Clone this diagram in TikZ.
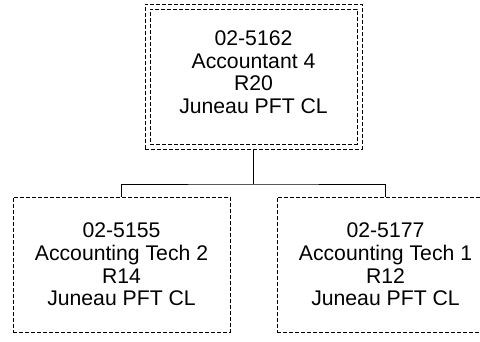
\documentclass[tikz,border=0pt]{standalone}
\usepackage{fontspec}
\setmainfont{Liberation Sans}
\begin{document}
\begin{tikzpicture}[x=1pt,y=-1pt,
  boxline/.style={draw=black,line width=0.9pt,dash pattern=on 4pt off 2pt,inner sep=0pt,outer sep=0pt},
  label/.style={align=center,inner sep=0pt,outer sep=0pt,font=\fontsize{21.2}{22.7}\selectfont},
  wire/.style={draw=black,line width=0.9pt}]
\useasboundingbox (0,0) rectangle (480,341);
\node[boxline,minimum width=217pt,minimum height=145pt] (top) at (253.5,76.5) {};
\node[boxline,minimum width=207pt,minimum height=135pt] (topin) at (253.5,76.5) {};
\node[label] (toplabel) at (253.5,72.3) {02-5162\\Accountant 4\\R20\\Juneau PFT CL};
\node[boxline,label,minimum width=217pt,minimum height=135pt] (left) at (121.5,264.5) {02-5155\\Accounting Tech 2\\R14\\Juneau PFT CL};
\node[boxline,label,minimum width=217pt,minimum height=135pt] (right) at (385.5,264.5) {02-5177\\Accounting Tech 1\\R12\\Juneau PFT CL};
\coordinate (bus) at (253.5,184);
\draw[wire] (top.south) -- (bus);
\draw[wire] (left.north) |- (bus) -| (right.north);
\end{tikzpicture}
\end{document}
